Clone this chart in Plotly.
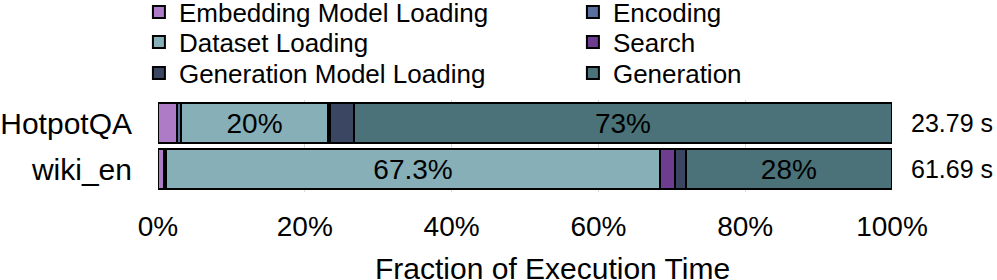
import plotly.graph_objects as go

categories = ["HotpotQA", "wiki_en"]
series_names = ["Embedding Model Loading", "Encoding", "Dataset Loading",
                "Search", "Generation Model Loading", "Generation"]
embedding_loading = [2.6, 0.8]
encoding = [0.5, 0.3]
dataset_loading = [20.1, 67.3]
search = [0.3, 2.1]
generation_model_loading = [3.2, 1.4]
generation = [73.3, 28.1]
dataset_labels = ["20%", "67.3%"]
generation_labels = ["73%", "28%"]
total_times = ["23.79 s", "61.69 s"]
x_ticks = [0, 20, 40, 60, 80, 100]
x_tick_labels = ["0%", "20%", "40%", "60%", "80%", "100%"]
x_title = "Fraction of Execution Time"

series_values = [embedding_loading, encoding, dataset_loading, search,
                 generation_model_loading, generation]
series_text = [None, None, dataset_labels, None, None, generation_labels]
colors = ["#ae7cc6", "#5b6f9e", "#86afb7", "#6f3d8f", "#3b4762", "#4a7278"]
legend_ids = ["legend", "legend", "legend2", "legend2", "legend3", "legend3"]

FONT = "Liberation Sans, Arial, sans-serif"

fig = go.Figure()
for name, vals, txt, col, lg in zip(series_names, series_values, series_text, colors, legend_ids):
    fig.add_trace(go.Bar(
        y=categories, x=vals, name=name, orientation="h",
        marker=dict(color=col, line=dict(color="black", width=2)),
        text=txt if txt else None,
        textposition="inside" if txt else "none",
        insidetextanchor="middle", textangle=0, constraintext="none",
        textfont=dict(size=28, color="black", family=FONT),
        legend=lg, hoverinfo="x+y+name",
    ))

for cat, t in zip(categories, total_times):
    fig.add_annotation(x=100, y=cat, xref="x", yref="y", text=t, showarrow=False,
                       xanchor="left", xshift=17, font=dict(size=25, color="black", family=FONT))

# x-axis title (placed as a paper annotation to match the reference's offset)
fig.add_annotation(x=0.5375, y=-0.83, xref="paper", yref="paper", text=x_title,
                   showarrow=False, xanchor="center", yanchor="middle",
                   font=dict(size=30, color="black", family=FONT))

legend_common = dict(orientation="h", xanchor="left", yanchor="middle", x=-0.026,
                     entrywidth=389, entrywidthmode="pixels",
                     font=dict(size=26, color="black", family=FONT),
                     bgcolor="rgba(0,0,0,0)", traceorder="normal")

fig.update_layout(
    width=997, height=280,
    margin=dict(l=158, r=105, t=100, b=88, autoexpand=False),
    barmode="stack", bargap=0.14,
    plot_bgcolor="white", paper_bgcolor="white",
    font=dict(family=FONT, size=28, color="black"),
    xaxis=dict(range=[0, 100], tickmode="array", tickvals=x_ticks, ticktext=x_tick_labels,
               showgrid=True, gridcolor="#d9d9d9", gridwidth=1, zeroline=False, showline=False,
               ticks="", ticklabelstandoff=15,
               tickfont=dict(size=28)),
    yaxis=dict(categoryorder="array", categoryarray=categories, autorange="reversed",
               showgrid=False, zeroline=False, showline=False, ticks="",
               ticklabelstandoff=25, tickfont=dict(size=30)),
    legend=dict(legend_common, y=1.9565),
    legend2=dict(legend_common, y=1.630),
    legend3=dict(legend_common, y=1.2935),
    showlegend=True,
)

fig.write_html("out.html", config={"displayModeBar": False},
               post_script="document.body.style.margin='0';")
